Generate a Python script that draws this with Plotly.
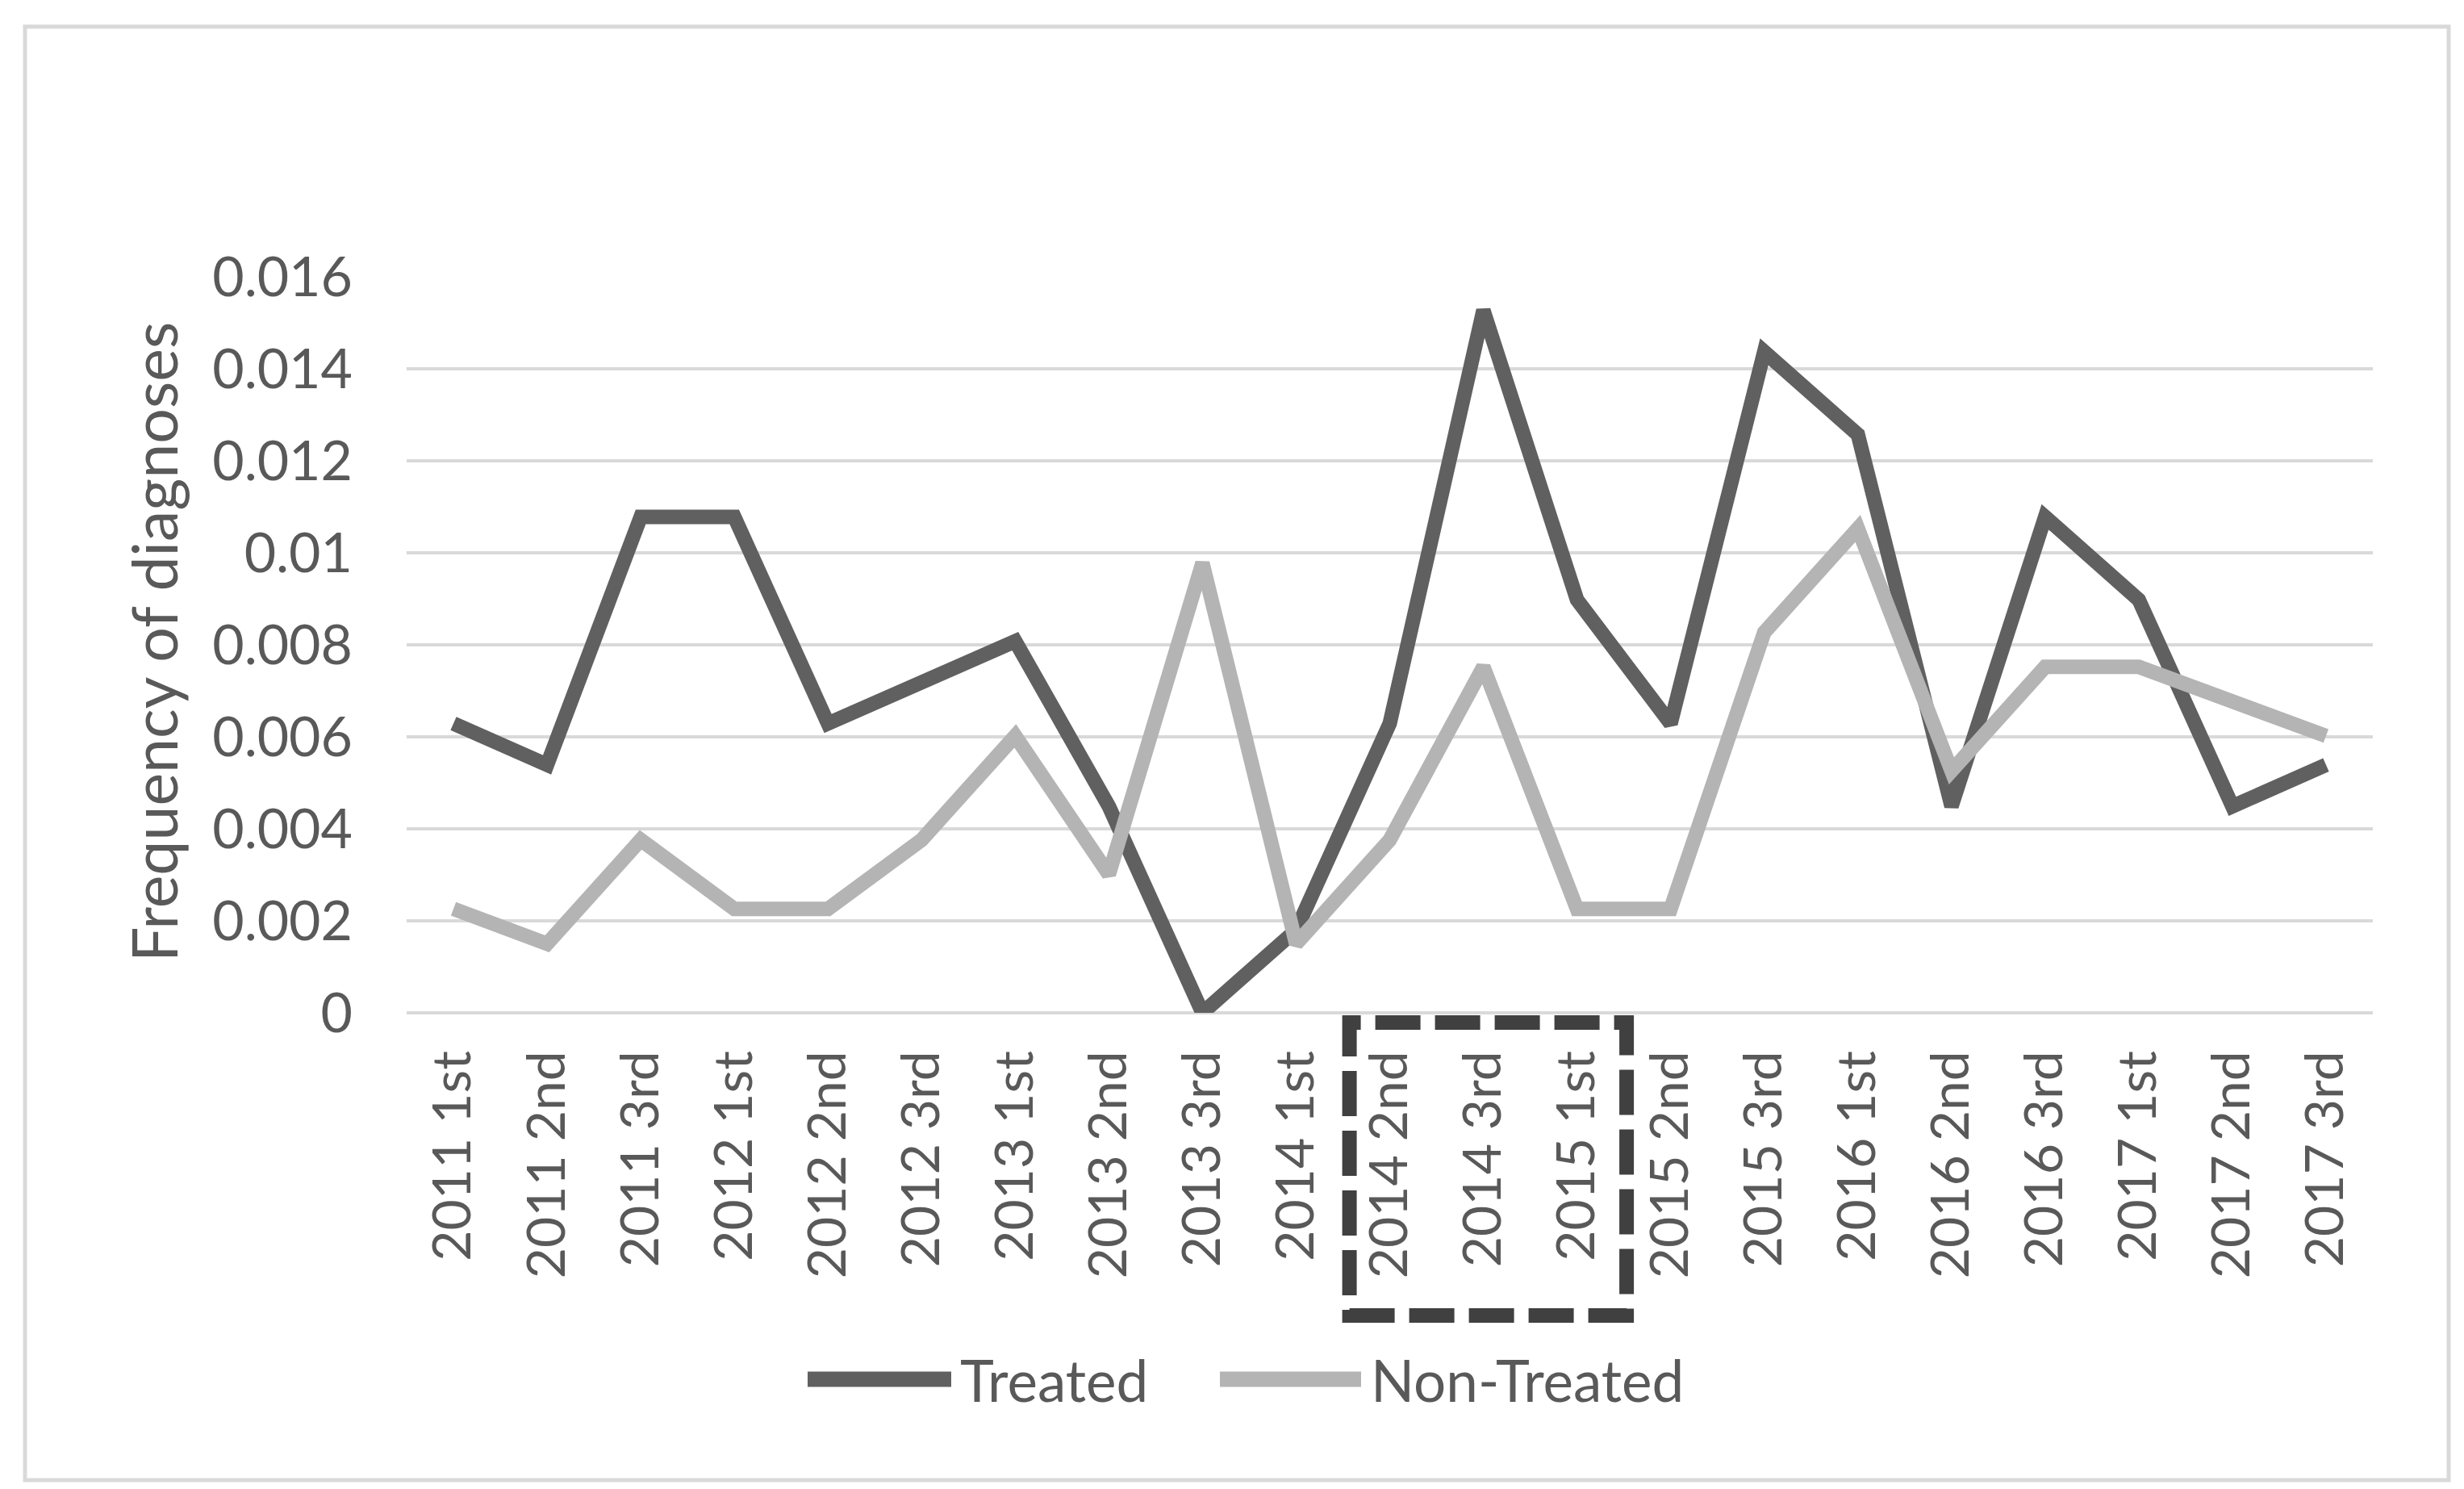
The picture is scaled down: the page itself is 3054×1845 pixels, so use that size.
import plotly.graph_objects as go

categories = ["2011 1st", "2011 2nd", "2011 3rd", "2012 1st", "2012 2nd", "2012 3rd",
              "2013 1st", "2013 2nd", "2013 3rd", "2014 1st", "2014 2nd", "2014 3rd",
              "2015 1st", "2015 2nd", "2015 3rd", "2016 1st", "2016 2nd", "2016 3rd",
              "2017 1st", "2017 2nd", "2017 3rd"]
treated = [0.00629, 0.00539, 0.01078, 0.01078, 0.00629, 0.00718, 0.00808, 0.00449,
           0.0, 0.0018, 0.00629, 0.01527, 0.00898, 0.00629, 0.01437, 0.01257,
           0.00449, 0.01078, 0.00898, 0.00449, 0.00539]
non_treated = [0.00226, 0.0015, 0.00376, 0.00226, 0.00226, 0.00376, 0.00602, 0.00301,
               0.00978, 0.0015, 0.00376, 0.00752, 0.00226, 0.00226, 0.00827, 0.01053,
               0.00526, 0.00752, 0.00752, 0.00677, 0.00602]
y_tick_vals = [0, 0.002, 0.004, 0.006, 0.008, 0.010, 0.012, 0.014, 0.016]
y_tick_text = ["0", "0.002", "0.004", "0.006", "0.008", "0.01", "0.012", "0.014", "0.016"]
series_names = ["Treated", "Non-Treated"]
y_title = "Frequency of diagnoses"

FONT = "Lato, Carlito, sans-serif"
TXT = "#595959"
C_T = "#606060"
C_N = "#B4B4B4"
GRID = "#D9D9D9"

W, H = 3054, 1845
L, R, T, B = 496, 121, 335, 598
PW, PH = W - L - R, H - T - B

def px(x):
    return (x - L) / PW

def py(y):
    return (H - B - y) / PH

fig = go.Figure()
fig.add_trace(go.Scatter(x=categories, y=treated, mode="lines", name=series_names[0],
                         line=dict(color=C_T, width=18), showlegend=False))
fig.add_trace(go.Scatter(x=categories, y=non_treated, mode="lines", name=series_names[1],
                         line=dict(color=C_N, width=18), showlegend=False))

shapes = []
# outer chart border
shapes.append(dict(type="rect", xref="paper", yref="paper",
                   x0=px(23), x1=px(3027), y0=py(1826), y1=py(25),
                   line=dict(color=GRID, width=5), fillcolor="rgba(0,0,0,0)", layer="below"))
# dashed highlight box around 2014 2nd - 2015 1st labels
shapes.append(dict(type="rect", xref="x", yref="paper",
                   x0=9.57, x1=12.53, y0=py(1622), y1=py(1259),
                   line=dict(color="#404040", width=18, dash="56px,18px"),
                   fillcolor="rgba(0,0,0,0)"))
# legend keys
legend_y = py(1701)
shapes.append(dict(type="line", xref="paper", yref="paper", x0=px(993), x1=px(1171),
                   y0=legend_y, y1=legend_y, line=dict(color=C_T, width=19)))
shapes.append(dict(type="line", xref="paper", yref="paper", x0=px(1504), x1=px(1679),
                   y0=legend_y, y1=legend_y, line=dict(color=C_N, width=19)))

annotations = [
    dict(text=series_names[0], xref="paper", yref="paper", x=px(1180), y=legend_y,
         xanchor="left", yanchor="middle", showarrow=False,
         font=dict(family=FONT, size=71, color=TXT)),
    dict(text=series_names[1], xref="paper", yref="paper", x=px(1689), y=legend_y,
         xanchor="left", yanchor="middle", showarrow=False,
         font=dict(family=FONT, size=71, color=TXT)),
    dict(text=y_title, xref="paper", yref="paper", x=px(182), y=py(788),
         xanchor="center", yanchor="middle", textangle=-90, showarrow=False,
         font=dict(family=FONT, size=77, color=TXT)),
]

fig.update_layout(
    width=W, height=H, autosize=False,
    margin=dict(l=L, r=R, t=T, b=B),
    paper_bgcolor="white", plot_bgcolor="white",
    showlegend=False,
    shapes=shapes, annotations=annotations,
    xaxis=dict(type="category", tickangle=-90, showgrid=False, showline=False,
               zeroline=False, ticks="", ticklabelstandoff=33,
               tickfont=dict(family=FONT, size=66, color=TXT),
               range=[-0.5, len(categories) - 0.5]),
    yaxis=dict(range=[0, 0.016], tickvals=y_tick_vals, ticktext=y_tick_text,
               showgrid=True, gridcolor=GRID, gridwidth=4,
               zeroline=True, zerolinecolor=GRID, zerolinewidth=4,
               showline=False, ticks="", ticklabelstandoff=66,
               tickfont=dict(family=FONT, size=68, color=TXT)),
)

fig.write_html("out.html")
